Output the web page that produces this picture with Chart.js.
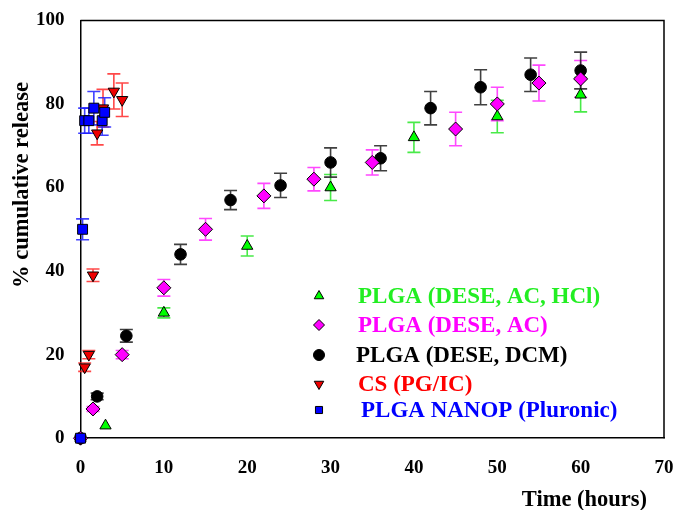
<!DOCTYPE html>
<html>
<head>
<meta charset="utf-8">
<script src="https://cdn.jsdelivr.net/npm/chart.js@4"></script>
<style>
  html, body { margin: 0; padding: 0; background: #fff; }
  #wrap { width: 676px; height: 510px; }
</style>
</head>
<body>
<div id="wrap"><canvas id="c"></canvas></div>
<script>
// PLGA (DESE, AC, HCl)
const hclHours = [0, 3, 10, 20, 30, 40, 50, 60];
const hclRelease = [0, 3, 30, 46, 60, 72, 77, 82.2];
const hclErr = [0, 0, 1.2, 2.4, 3.1, 3.6, 3.9, 4.1];

// PLGA (DESE, AC)
const acHours = [0, 1.5, 5, 10, 15, 22, 28, 35, 45, 50, 55, 60];
const acRelease = [0, 7, 20, 36, 50, 58, 62, 66, 74, 80, 85, 86];
const acErr = [0, 0.6, 1, 2, 2.6, 3, 2.8, 3, 4, 4, 4.3, 4.4];

// PLGA (DESE, DCM)
const dcmHours = [0, 2, 5.5, 12, 18, 24, 30, 36, 42, 48, 54, 60];
const dcmRelease = [0, 10, 24.5, 44, 57, 60.5, 66, 67, 79, 84, 87, 88];
const dcmErr = [0, 0.8, 1.5, 2.4, 2.3, 2.9, 3.5, 3, 4, 4.2, 4, 4.4];

// CS (PG/IC)
const csHours = [0, 0.5, 1, 1.5, 2, 2.7, 4, 5];
const csRelease = [0, 17, 20, 39, 73, 79, 83, 81];
const csErr = [0, 1, 1, 1.5, 2.8, 4.5, 4.2, 4];

// PLGA NANOP (Pluronic)
const nanoHours = [0, 0.25, 0.5, 1, 1.6, 2.6, 2.9];
const nanoRelease = [0, 50, 76, 76, 79, 76, 78];
const nanoErr = [0, 2.5, 3, 3, 4, 3.5, 3.5];

const xTicks = [0, 10, 20, 30, 40, 50, 60, 70];
const yTicks = [0, 20, 40, 60, 80, 100];

const serif = '"Liberation Serif", "Times New Roman", serif';

const series = [
  { label: 'PLGA (DESE, AC, HCl)', x: hclHours, y: hclRelease, err: hclErr, fill: '#00ff00', bar: 'rgba(40,230,40,0.85)', text: '#22ee22', shape: 'triangle', r: 6.5, rot: 0, order: 5 },
  { label: 'PLGA (DESE, AC)', x: acHours, y: acRelease, err: acErr, fill: '#ff00ff', bar: 'rgba(255,40,255,0.85)', text: '#ff00ff', shape: 'rectRot', r: 7, rot: 0, order: 3 },
  { label: 'PLGA (DESE, DCM)', x: dcmHours, y: dcmRelease, err: dcmErr, fill: '#000000', bar: 'rgba(30,30,30,0.85)', text: '#000000', shape: 'circle', r: 5.8, rot: 0, order: 4 },
  { label: 'CS (PG/IC)', x: csHours, y: csRelease, err: csErr, fill: '#ee0000', bar: 'rgba(255,40,40,0.85)', text: '#ff0000', shape: 'triangle', r: 6.5, rot: 180, order: 2 },
  { label: 'PLGA NANOP (Pluronic)', x: nanoHours, y: nanoRelease, err: nanoErr, fill: '#0000ff', bar: 'rgba(30,30,255,0.85)', text: '#0000ff', shape: 'rect', r: 7, rot: 0, order: 1 }
];

const datasets = series.map(s => ({
  label: s.label,
  data: s.x.map((h, i) => ({ x: h, y: s.y[i] })),
  errors: s.err,
  barColor: s.bar,
  textColor: s.text,
  pointStyle: s.shape,
  rotation: s.rot,
  pointRadius: s.r,
  pointHoverRadius: s.r,
  backgroundColor: s.fill,
  borderColor: '#000',
  borderWidth: 1,
  showLine: false,
  clip: false,
  order: s.order
}));

// vertical error bars with caps, under the markers
const errorBars = {
  id: 'errorBars',
  beforeDatasetsDraw(chart) {
    const ctx = chart.ctx;
    const xs = chart.scales.x, ys = chart.scales.y;
    ctx.save();
    chart.data.datasets.forEach(ds => {
      ctx.strokeStyle = ds.barColor;
      ctx.lineWidth = 1.6;
      ds.data.forEach((p, i) => {
        const e = ds.errors[i];
        if (!e) return;
        const px = xs.getPixelForValue(p.x);
        const top = ys.getPixelForValue(p.y + e);
        const bot = ys.getPixelForValue(p.y - e);
        ctx.beginPath();
        ctx.moveTo(px, top); ctx.lineTo(px, bot);
        ctx.moveTo(px - 6.5, top); ctx.lineTo(px + 6.5, top);
        ctx.moveTo(px - 6.5, bot); ctx.lineTo(px + 6.5, bot);
        ctx.stroke();
      });
    });
    ctx.restore();
  }
};

// legend drawn inside the plot, text coloured per series
const innerLegend = {
  id: 'innerLegend',
  afterDraw(chart) {
    const ctx = chart.ctx;
    ctx.save();
    ctx.font = 'bold 23px ' + serif;
    ctx.textBaseline = 'middle';
    const rows = [296, 325, 355, 384, 410];
    const textX = [358, 358, 356, 358, 361];
    chart.data.datasets.forEach((ds, i) => {
      ctx.fillStyle = ds.backgroundColor;
      ctx.strokeStyle = '#000';
      ctx.lineWidth = 1;
      Chart.helpers.drawPoint(ctx, {
        pointStyle: ds.pointStyle, rotation: ds.rotation,
        radius: ds.pointStyle === 'rect' ? 5 : 5.5, borderWidth: 1
      }, 319, rows[i]);
      ctx.fillStyle = ds.textColor;
      ctx.fillText(ds.label, textX[i], rows[i] + 1);
    });
    ctx.restore();
  }
};

// box on top/right and the two axis titles
const frameAndTitles = {
  id: 'frameAndTitles',
  afterDraw(chart) {
    const a = chart.chartArea, ctx = chart.ctx;
    ctx.save();
    ctx.strokeStyle = '#000';
    ctx.lineWidth = 1.5;
    ctx.beginPath();
    ctx.moveTo(a.left, a.top); ctx.lineTo(a.right, a.top); ctx.lineTo(a.right, a.bottom);
    ctx.stroke();

    ctx.fillStyle = '#000';
    ctx.font = 'bold 22.5px ' + serif;
    ctx.textBaseline = 'middle';
    ctx.textAlign = 'right';
    ctx.fillText('Time (hours)', 647, 500);

    ctx.translate(22, 185);
    ctx.rotate(-Math.PI / 2);
    ctx.textAlign = 'center';
    ctx.fillText('% cumulative release', 0, 0);
    ctx.restore();
  }
};

new Chart(document.getElementById('c'), {
  type: 'scatter',
  data: { datasets },
  plugins: [errorBars, innerLegend, frameAndTitles],
  options: {
    responsive: true,
    maintainAspectRatio: false,
    animation: false,
    layout: { padding: { top: 16, right: 12, bottom: 19, left: 27 } },
    plugins: {
      legend: { display: false },
      tooltip: { enabled: false }
    },
    scales: {
      x: {
        type: 'linear',
        min: 0, max: 70,
        afterBuildTicks: axis => { axis.ticks = xTicks.map(v => ({ value: v })); },
        afterFit: axis => { axis.paddingRight = 0; axis.paddingLeft = 0; },
        grid: { display: false, drawTicks: true, tickLength: 6, tickColor: '#000' },
        border: { color: '#000', width: 1.5 },
        ticks: { color: '#000', font: { family: serif, size: 19, weight: 'bold' }, padding: 12, maxRotation: 0 }
      },
      y: {
        type: 'linear',
        min: 0, max: 100,
        afterBuildTicks: axis => { axis.ticks = yTicks.map(v => ({ value: v })); },
        grid: { display: false, drawTicks: true, tickLength: 7, tickColor: '#000' },
        border: { color: '#000', width: 1.5 },
        ticks: { color: '#000', font: { family: serif, size: 19, weight: 'bold' }, padding: 9 }
      }
    }
  }
});
</script>
</body>
</html>
